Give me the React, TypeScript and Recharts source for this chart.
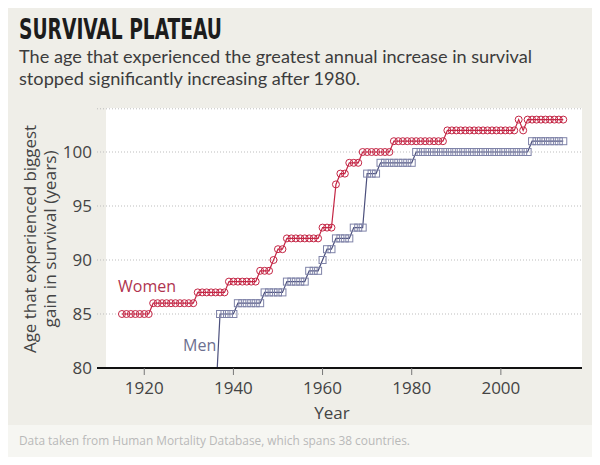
import React from "react";
import { LineChart, Line, XAxis, YAxis, CartesianGrid } from "recharts";

// one value per year (null = no data)
const years = [
  1915, 1916, 1917, 1918, 1919, 1920, 1921, 1922, 1923, 1924,
  1925, 1926, 1927, 1928, 1929, 1930, 1931, 1932, 1933, 1934,
  1935, 1936, 1937, 1938, 1939, 1940, 1941, 1942, 1943, 1944,
  1945, 1946, 1947, 1948, 1949, 1950, 1951, 1952, 1953, 1954,
  1955, 1956, 1957, 1958, 1959, 1960, 1961, 1962, 1963, 1964,
  1965, 1966, 1967, 1968, 1969, 1970, 1971, 1972, 1973, 1974,
  1975, 1976, 1977, 1978, 1979, 1980, 1981, 1982, 1983, 1984,
  1985, 1986, 1987, 1988, 1989, 1990, 1991, 1992, 1993, 1994,
  1995, 1996, 1997, 1998, 1999, 2000, 2001, 2002, 2003, 2004,
  2005, 2006, 2007, 2008, 2009, 2010, 2011, 2012, 2013, 2014,
];

const women = [
  85, 85, 85, 85, 85, 85, 85, 86, 86, 86,
  86, 86, 86, 86, 86, 86, 86, 87, 87, 87,
  87, 87, 87, 87, 88, 88, 88, 88, 88, 88,
  88, 89, 89, 89, 90, 91, 91, 92, 92, 92,
  92, 92, 92, 92, 92, 93, 93, 93, 97, 98,
  98, 99, 99, 99, 100, 100, 100, 100, 100, 100,
  100, 101, 101, 101, 101, 101, 101, 101, 101, 101,
  101, 101, 101, 102, 102, 102, 102, 102, 102, 102,
  102, 102, 102, 102, 102, 102, 102, 102, 102, 103,
  102, 103, 103, 103, 103, 103, 103, 103, 103, 103,
];

const men = [
  null, null, null, null, null, null, null, null, null, null,
  null, null, null, null, null, null, null, null, null, null,
  null, 77, 85, 85, 85, 85, 86, 86, 86, 86,
  86, 86, 87, 87, 87, 87, 87, 88, 88, 88,
  88, 88, 89, 89, 89, 90, 91, 91, 92, 92,
  92, 92, 93, 93, 93, 98, 98, 98, 99, 99,
  99, 99, 99, 99, 99, 99, 100, 100, 100, 100,
  100, 100, 100, 100, 100, 100, 100, 100, 100, 100,
  100, 100, 100, 100, 100, 100, 100, 100, 100, 100,
  100, 100, 101, 101, 101, 101, 101, 101, 101, 101,
];

const yearTicks = [1920, 1940, 1960, 1980, 2000];
const ageTicks = [80, 85, 90, 95, 100];

const data = years.map((year, i) => ({ year, women: women[i], men: men[i] }));

const RED = "#c42645";
const BLUE = "#4b4f7c";
const SANS = "'Open Sans', Lato, sans-serif";

const SquareDot = (props: any) => {
  const { cx, cy, index } = props;
  if (cx == null || cy == null || props.value == null) return <g key={`m${index}`} />;
  return (
    <rect
      key={`m${index}`}
      x={cx - 3.5}
      y={cy - 3.5}
      width={7}
      height={7}
      fill="none"
      stroke="#7f83a8"
      strokeWidth={1}
    />
  );
};

export default function App() {
  return (
    <div
      style={{
        position: "relative",
        width: 600,
        height: 465,
        margin: -8,
        background: "#efeee8",
        overflow: "hidden",
      }}
    >
      <svg width={600} height={465} style={{ position: "absolute", left: 0, top: 0 }}>
        <rect x={0} y={425} width={600} height={40} fill="#f6f6f2" />
        <rect x={106} y={108} width={476} height={260} fill="#ffffff" />
        <text
          x={19}
          y={39}
          fontFamily="'Liberation Sans Narrow', 'DejaVu Sans Condensed', sans-serif"
          fontWeight="bold"
          fontSize={29}
          fill="#1c1c1c"
          textLength={203}
          lengthAdjust="spacingAndGlyphs"
        >
          SURVIVAL PLATEAU
        </text>
        <text x={19} y={63} fontFamily="Lato, sans-serif" fontSize={18} fill="#3c3c3c" textLength={513} lengthAdjust="spacingAndGlyphs">
          The age that experienced the greatest annual increase in survival
        </text>
        <text x={19} y={85} fontFamily="Lato, sans-serif" fontSize={18} fill="#3c3c3c" textLength={341} lengthAdjust="spacingAndGlyphs">
          stopped significantly increasing after 1980.
        </text>
        <text
          transform="translate(29,239) rotate(-90)"
          textAnchor="middle"
          dominantBaseline="central"
          fontFamily={SANS}
          fontSize={17}
          fill="#444"
          textLength={228}
          lengthAdjust="spacingAndGlyphs"
        >
          Age that experienced biggest
        </text>
        <text
          transform="translate(49,239) rotate(-90)"
          textAnchor="middle"
          dominantBaseline="central"
          fontFamily={SANS}
          fontSize={17}
          fill="#444"
          textLength={177}
          lengthAdjust="spacingAndGlyphs"
        >
          gain in survival (years)
        </text>
        <text x={118} y={292} fontFamily={SANS} fontSize={16} fill="#b0344f">
          Women
        </text>
        <text x={183} y={351} fontFamily={SANS} fontSize={16} fill="#6d7090">
          Men
        </text>
        <text x={332} y={419} textAnchor="middle" fontFamily={SANS} fontSize={17} fill="#444">
          Year
        </text>
        <text x={19} y={445} fontFamily={SANS} fontSize={12} fill="#b9b9b9" textLength={391} lengthAdjust="spacingAndGlyphs">
          Data taken from Human Mortality Database, which spans 38 countries.
        </text>
      </svg>
      <div style={{ position: "absolute", left: 0, top: 0 }}>
        <LineChart
          width={600}
          height={465}
          data={data}
          margin={{ top: 108.8, right: 18, bottom: 47, left: 0 }}
        >
          <CartesianGrid vertical={false} stroke="#bdbdbd" strokeDasharray="1 2" />
          <XAxis
            dataKey="year"
            type="number"
            domain={[1909.4, 2018.2]}
            ticks={yearTicks}
            height={50}
            axisLine={{ stroke: "#111", strokeWidth: 2 }}
            tickLine={{ stroke: "#777" }}
            tickSize={7}
            tickMargin={7}
            tick={{ fill: "#444", fontSize: 17, fontFamily: SANS }}
          />
          <YAxis
            type="number"
            domain={[80, 104]}
            ticks={ageTicks}
            allowDataOverflow
            width={97}
            axisLine={false}
            tickLine={false}
            tickSize={3}
            tickMargin={2}
            tick={{ fill: "#444", fontSize: 17, fontFamily: SANS }}
          />
          <Line
            dataKey="women"
            type="linear"
            stroke={RED}
            strokeWidth={1.2}
            dot={{ r: 3.5, stroke: RED, strokeWidth: 1, fill: "none" }}
            activeDot={false}
            isAnimationActive={false}
          />
          <Line
            dataKey="men"
            type="linear"
            stroke={BLUE}
            strokeWidth={1.2}
            dot={SquareDot}
            activeDot={false}
            isAnimationActive={false}
          />
        </LineChart>
      </div>
    </div>
  );
}
